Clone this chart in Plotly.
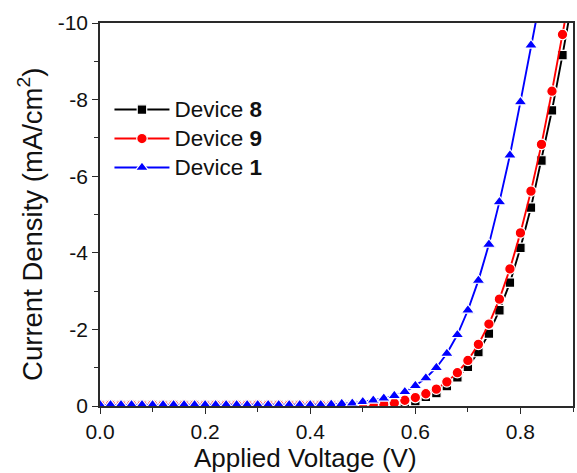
import plotly.graph_objects as go

# Applied bias (V), sampled every 20 mV
voltage = [0.00, 0.02, 0.04, 0.06, 0.08, 0.10, 0.12, 0.14, 0.16, 0.18,
           0.20, 0.22, 0.24, 0.26, 0.28, 0.30, 0.32, 0.34, 0.36, 0.38,
           0.40, 0.42, 0.44, 0.46, 0.48, 0.50, 0.52, 0.54, 0.56, 0.58,
           0.60, 0.62, 0.64, 0.66, 0.68, 0.70, 0.72, 0.74, 0.76, 0.78,
           0.80, 0.82, 0.84, 0.86, 0.88, 0.90]

# Current density (mA/cm^2) for each device
j_device8 = [-0.03, -0.03, -0.03, -0.03, -0.03, -0.03, -0.03, -0.03, -0.03, -0.03,
             -0.03, -0.03, -0.03, -0.03, -0.03, -0.03, -0.03, -0.03, -0.03, -0.03,
             -0.03, -0.03, -0.03, -0.03, -0.03, -0.03, -0.03, -0.04, -0.05, -0.08,
             -0.13, -0.24, -0.34, -0.52, -0.75, -1.02, -1.41, -1.89, -2.50, -3.22,
             -4.13, -5.18, -6.41, -7.72, -9.16, -10.70]

j_device9 = [-0.03, -0.03, -0.03, -0.03, -0.03, -0.03, -0.03, -0.03, -0.03, -0.03,
             -0.03, -0.03, -0.03, -0.03, -0.03, -0.03, -0.03, -0.03, -0.03, -0.03,
             -0.03, -0.03, -0.03, -0.03, -0.03, -0.03, -0.04, -0.05, -0.08, -0.15,
             -0.22, -0.32, -0.44, -0.63, -0.87, -1.19, -1.61, -2.14, -2.79, -3.58,
             -4.52, -5.61, -6.83, -8.22, -9.70, -11.20]

j_device1 = [-0.03, -0.03, -0.03, -0.03, -0.03, -0.03, -0.03, -0.03, -0.03, -0.03,
             -0.03, -0.03, -0.03, -0.03, -0.03, -0.03, -0.03, -0.03, -0.03, -0.03,
             -0.03, -0.03, -0.04, -0.06, -0.07, -0.11, -0.15, -0.20, -0.27, -0.37,
             -0.53, -0.73, -1.00, -1.37, -1.86, -2.50, -3.28, -4.22, -5.33, -6.55,
             -7.94, -9.42, -10.80]

device_labels = ["8", "9", "1"]
series_colors = ["#000000", "#ff0000", "#0000ff"]
series_symbols = ["square", "circle", "triangle-up"]
series_sizes = [9.5, 10.5, 11.5]

x_ticks = [0.0, 0.2, 0.4, 0.6, 0.8]
x_tick_labels = ["0.0", "0.2", "0.4", "0.6", "0.8"]
y_ticks = [0, -2, -4, -6, -8, -10]
y_tick_labels = ["0", "-2", "-4", "-6", "-8", "-10"]

FONT = "Liberation Sans, Arial, sans-serif"
AXIS_COLOR = "#2a2a2a"
TEXT_COLOR = "#111111"

fig = go.Figure()
for label, ys, color, symbol, size in zip(device_labels,
                                          [j_device8, j_device9, j_device1],
                                          series_colors, series_symbols, series_sizes):
    fig.add_trace(go.Scatter(
        x=voltage[:len(ys)], y=ys,
        name=f'<span style="font-size:22.5px">Device <b>{label}</b></span>',
        mode="lines+markers",
        line=dict(color=color, width=1.9),
        marker=dict(symbol=symbol, size=size, color=color,
                    line=dict(color="white", width=1.2)),
        cliponaxis=True,
    ))

axis_common = dict(
    showline=True, linecolor=AXIS_COLOR, linewidth=1.6, mirror=True,
    ticks="outside", ticklen=6, tickwidth=1.4, tickcolor=AXIS_COLOR,
    showgrid=False, zeroline=False,
    tickfont=dict(family=FONT, size=21, color=TEXT_COLOR),
)

fig.update_xaxes(
    range=[0, 0.9], tickmode="array", tickvals=x_ticks, ticktext=x_tick_labels,
    minor=dict(dtick=0.1, tick0=0, ticks="outside", ticklen=4, tickwidth=1.2,
               tickcolor=AXIS_COLOR, showgrid=False),
    **axis_common,
)
fig.update_yaxes(
    range=[0, -10], tickmode="array", tickvals=y_ticks, ticktext=y_tick_labels,
    minor=dict(dtick=1, tick0=0, ticks="outside", ticklen=4, tickwidth=1.2,
               tickcolor=AXIS_COLOR, showgrid=False),
    **axis_common,
)

# Axis titles placed as annotations so their position can be set freely
fig.add_annotation(
    text="Applied Voltage (V)", xref="paper", yref="paper",
    x=0.434, y=-0.137, xanchor="center", yanchor="middle", showarrow=False,
    font=dict(family=FONT, size=26, color=TEXT_COLOR),
)
fig.add_annotation(
    text="Current Density (mA/cm<sup>2</sup>)", xref="paper", yref="paper",
    x=-0.147, y=0.474, xanchor="center", yanchor="middle", showarrow=False,
    textangle=-90,
    font=dict(family=FONT, size=27.5, color=TEXT_COLOR),
)

fig.update_layout(
    width=577, height=473,
    margin=dict(l=100, r=2, t=23, b=67),
    paper_bgcolor="white", plot_bgcolor="white",
    showlegend=True,
    legend=dict(
        x=0.02, y=0.825, xanchor="left", yanchor="top",
        bgcolor="rgba(0,0,0,0)", borderwidth=0,
        font=dict(family=FONT, size=20, color=TEXT_COLOR),
        itemwidth=55, tracegroupgap=0,
    ),
)

fig.write_html("out.html")
